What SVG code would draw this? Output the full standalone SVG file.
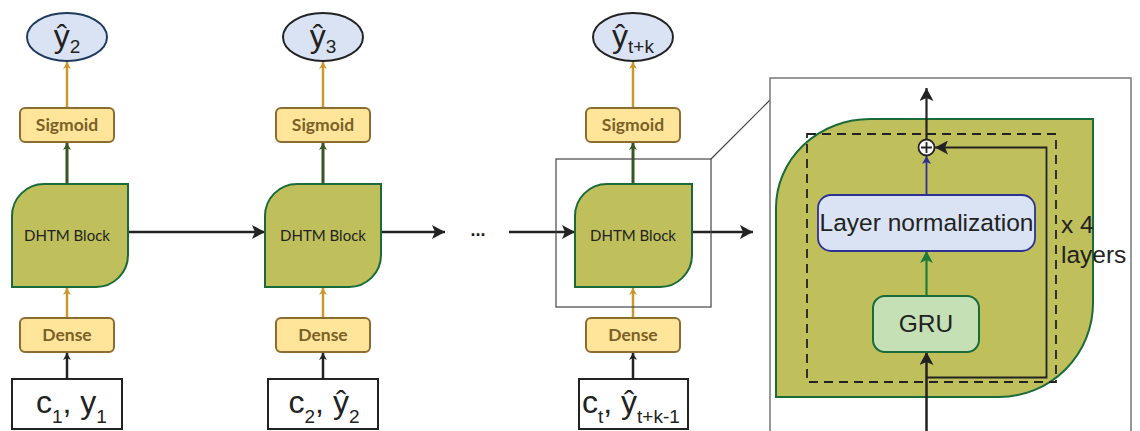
<svg xmlns="http://www.w3.org/2000/svg" width="1140" height="431" viewBox="0 0 1140 431">
<style>
.ell{fill:#dae3f3;stroke-width:2}
.ytxt{font-family:"Liberation Sans",Arial,sans-serif;font-size:32px;fill:#222}
.sub{font-size:19px}
.lbox{fill:#fee599;stroke:#8c6d31;stroke-width:2}
.ltxt{font-family:Lato,"Open Sans",sans-serif;font-weight:bold;font-size:17.5px;fill:#7a6128;text-anchor:middle}
.blk{fill:#bfbf5b;stroke:#1b6b3a;stroke-width:2}
.btxt{font-family:Lato,"Open Sans",sans-serif;font-size:15px;fill:#222;text-anchor:middle}
.inbox{fill:#fff;stroke:#222;stroke-width:2}
.intxt{font-family:"Liberation Sans",Arial,sans-serif;font-size:32px;fill:#222}
.isub{font-size:19px}
.gold{stroke:#c8982e;stroke-width:2.5;fill:none}
.dgreen{stroke:#375623;stroke-width:3;fill:none}
.black{stroke:#222;stroke-width:2.5;fill:none}
.ptxt{font-family:"Liberation Sans",Arial,sans-serif;font-size:24.5px;fill:#222}
</style>
<defs>
<marker id="aGold" markerUnits="userSpaceOnUse" markerWidth="8" markerHeight="8" refX="7" refY="4" orient="auto"><path d="M0,0 L7,4 L0,8 L2,4 Z" fill="#c8982e"/></marker>
<marker id="aDG" markerUnits="userSpaceOnUse" markerWidth="8" markerHeight="8" refX="7" refY="4" orient="auto"><path d="M0,0 L7,4 L0,8 L2,4 Z" fill="#375623"/></marker>
<marker id="aBs" markerUnits="userSpaceOnUse" markerWidth="8" markerHeight="8" refX="7" refY="4" orient="auto"><path d="M0,0 L7,4 L0,8 L2,4 Z" fill="#222"/></marker>
<marker id="aB" markerUnits="userSpaceOnUse" markerWidth="14" markerHeight="14" refX="13" refY="7" orient="auto"><path d="M0,0 L13,7 L0,14 L3,7 Z" fill="#222"/></marker>
<marker id="aBlue" markerUnits="userSpaceOnUse" markerWidth="9" markerHeight="9" refX="8" refY="4.5" orient="auto"><path d="M0,0 L8,4.5 L0,9 L2,4.5 Z" fill="#2e3192"/></marker>
<marker id="aG2" markerUnits="userSpaceOnUse" markerWidth="13" markerHeight="13" refX="12" refY="6.5" orient="auto"><path d="M0,0 L12,6.5 L0,13 L3,6.5 Z" fill="#1e7b3a"/></marker>
</defs>

<g id="connectors">
  <line class="gold" x1="67" y1="108" x2="67" y2="62" marker-end="url(#aGold)"/>
  <line class="dgreen" x1="67" y1="184" x2="67" y2="143" marker-end="url(#aDG)"/>
  <line class="gold" x1="67" y1="318" x2="67" y2="288" marker-end="url(#aGold)"/>
  <line class="black" x1="67" y1="379" x2="67" y2="353" marker-end="url(#aBs)"/>
  <line class="gold" x1="323" y1="108" x2="323" y2="62" marker-end="url(#aGold)"/>
  <line class="dgreen" x1="323" y1="184" x2="323" y2="143" marker-end="url(#aDG)"/>
  <line class="gold" x1="323" y1="318" x2="323" y2="288" marker-end="url(#aGold)"/>
  <line class="black" x1="323" y1="379" x2="323" y2="353" marker-end="url(#aBs)"/>
  <line class="gold" x1="633" y1="108" x2="633" y2="62" marker-end="url(#aGold)"/>
  <line class="dgreen" x1="633" y1="184" x2="633" y2="143" marker-end="url(#aDG)"/>
  <line class="gold" x1="633" y1="318" x2="633" y2="288" marker-end="url(#aGold)"/>
  <line class="black" x1="633" y1="379" x2="633" y2="353" marker-end="url(#aBs)"/>
  <line class="black" x1="128" y1="232" x2="265" y2="232" marker-end="url(#aB)"/>
  <line class="black" x1="381" y1="232" x2="445" y2="232" marker-end="url(#aB)"/>
  <line class="black" x1="509" y1="232" x2="575" y2="232" marker-end="url(#aB)"/>
  <line class="black" x1="692" y1="232" x2="753" y2="232" marker-end="url(#aB)"/>
  <rect x="556" y="159" width="155" height="148" fill="none" stroke="#444" stroke-width="1.2"/>
  <line x1="711" y1="159" x2="770" y2="100" stroke="#444" stroke-width="1.2"/>
</g>

<g id="ellipse1">
  <ellipse class="ell" cx="67" cy="37" rx="40" ry="24" stroke="#1f3a5f"/>
  <text class="ytxt" x="67" y="47" text-anchor="middle">ŷ<tspan class="sub" dy="6">2</tspan></text>
</g>
<g id="ellipse2">
  <ellipse class="ell" cx="323" cy="37" rx="40" ry="24" stroke="#222"/>
  <text class="ytxt" x="323" y="47" text-anchor="middle">ŷ<tspan class="sub" dy="6">3</tspan></text>
</g>
<g id="ellipse3">
  <ellipse class="ell" cx="633" cy="37" rx="40" ry="24" stroke="#222"/>
  <text class="ytxt" x="633" y="47" text-anchor="middle">ŷ<tspan class="sub" dy="6">t+k</tspan></text>
</g>

<g id="sigmoid1"><rect class="lbox" x="20" y="108" width="94" height="34" rx="5"/><text class="ltxt" x="67" y="131">Sigmoid</text></g>
<g id="sigmoid2"><rect class="lbox" x="276" y="108" width="94" height="34" rx="5"/><text class="ltxt" x="323" y="131">Sigmoid</text></g>
<g id="sigmoid3"><rect class="lbox" x="586" y="108" width="94" height="34" rx="5"/><text class="ltxt" x="633" y="131">Sigmoid</text></g>

<g id="dhtm1"><path class="blk" d="M12,287 L12,216 A32,32 0 0 1 44,184 L128,184 L128,255 A32,32 0 0 1 96,287 Z"/><text class="btxt" x="67" y="241">DHTM Block</text></g>
<g id="dhtm2"><path class="blk" d="M265,287 L265,216 A32,32 0 0 1 297,184 L381,184 L381,255 A32,32 0 0 1 349,287 Z"/><text class="btxt" x="323" y="241">DHTM Block</text></g>
<g id="dhtm3"><path class="blk" d="M575,287 L575,216 A32,32 0 0 1 607,184 L692,184 L692,255 A32,32 0 0 1 660,287 Z"/><text class="btxt" x="633" y="241">DHTM Block</text></g>

<g id="dense1"><rect class="lbox" x="20" y="318" width="94" height="34" rx="5"/><text class="ltxt" x="67" y="341">Dense</text></g>
<g id="dense2"><rect class="lbox" x="276" y="318" width="94" height="34" rx="5"/><text class="ltxt" x="323" y="341">Dense</text></g>
<g id="dense3"><rect class="lbox" x="586" y="318" width="94" height="34" rx="5"/><text class="ltxt" x="633" y="341">Dense</text></g>

<g id="input1"><rect class="inbox" x="12" y="379" width="110" height="50"/><text class="intxt" x="36" y="413">c<tspan class="isub" dy="10">1</tspan><tspan dy="-10">, y</tspan><tspan class="isub" dy="10">1</tspan></text></g>
<g id="input2"><rect class="inbox" x="268" y="379" width="110" height="50"/><text class="intxt" x="324" y="413" text-anchor="middle">c<tspan class="isub" dy="10">2</tspan><tspan dy="-10">, ŷ</tspan><tspan class="isub" dy="10">2</tspan></text></g>
<g id="input3"><rect class="inbox" x="579" y="379" width="109" height="50"/><text class="intxt" x="582" y="413">c<tspan class="isub" dy="10">t</tspan><tspan dy="-10">, ŷ</tspan><tspan class="isub" dy="10">t+k-1</tspan></text></g>

<g id="ellipsis"><text x="478" y="236" text-anchor="middle" font-family="Liberation Sans,Arial,sans-serif" font-weight="bold" font-size="18" fill="#222">...</text></g>

<g id="panel">
  <rect x="770" y="78" width="361" height="365" fill="#fff" stroke="#777" stroke-width="1.5"/>
  <path d="M776,397 L776,208 A94,89 0 0 1 870,119 L1093,119 L1093,303 A94,94 0 0 1 999,397 Z" fill="#bfbf5b" stroke="#1b6b3a" stroke-width="2"/>
  <rect x="807" y="134" width="249" height="248" fill="none" stroke="#222" stroke-width="1.8" stroke-dasharray="9,6"/>
  <text class="ptxt" x="1061" y="233">x 4</text>
  <text class="ptxt" x="1061" y="263">layers</text>
</g>

<g id="panel-connectors">
  <line x1="926.5" y1="140" x2="926.5" y2="88" stroke="#222" stroke-width="2.2" marker-end="url(#aB)"/>
  <path d="M926.5,377.5 L1046.5,377.5 L1046.5,147.5 L935,147.5" fill="none" stroke="#222" stroke-width="1.8" marker-end="url(#aB)"/>
  <line x1="926.5" y1="431" x2="926.5" y2="352" stroke="#222" stroke-width="2.5" marker-end="url(#aB)"/>
  <line x1="926.5" y1="296" x2="926.5" y2="251" stroke="#1e7b3a" stroke-width="2.2" marker-end="url(#aG2)"/>
  <line x1="926.5" y1="195" x2="926.5" y2="156" stroke="#2e3192" stroke-width="1.8" marker-end="url(#aBlue)"/>
</g>

<g id="gru"><rect x="873" y="296" width="106" height="56" rx="12" fill="#c5e0b4" stroke="#1b6b3a" stroke-width="2"/><text class="ptxt" x="926" y="332" text-anchor="middle">GRU</text></g>
<g id="layernorm"><rect x="818" y="195" width="217" height="56" rx="13" fill="#dae3f3" stroke="#2e3192" stroke-width="1.8"/><text class="ptxt" x="926.5" y="231" text-anchor="middle">Layer normalization</text></g>
<g id="add"><circle cx="926.5" cy="147.5" r="8" fill="#fff" stroke="#222" stroke-width="1.8"/><path d="M921,147.5 H932 M926.5,142 V153" stroke="#222" stroke-width="1.8"/></g>
</svg>
